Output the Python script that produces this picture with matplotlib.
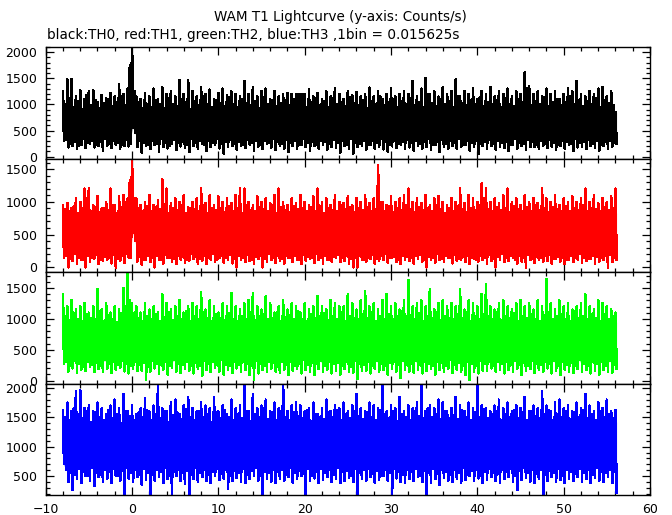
import numpy as np
import matplotlib
matplotlib.use("Agg")
import matplotlib.pyplot as plt
from matplotlib.ticker import MultipleLocator

# ---- data ----
# envelope of each light curve, sampled every 0.25 s:
#   *_a at t = -8.0, -7.5, ..., 56.0   ;   *_b at t = -7.75, -7.25, ..., 55.75
t_start = -8.0
t_step = 0.25

th0_hi_a = [1250, 1480, 1480, 1150, 1270, 1100, 1260, 1270, 1050, 1180,
            1120, 1210, 1150, 1390, 1200, 1300, 2150, 1150, 1100, 1220,
            1150, 1300, 1100, 1330, 1200, 1250, 1150, 1470, 1200, 1460,
            1250, 1150, 1330, 1200, 1280, 1100, 1220, 1300, 1180, 1250,
            1200, 1150, 1450, 1200, 1330, 1150, 1250, 1300, 1100, 1250,
            1150, 1200, 1210, 1200, 1200, 1200, 1200, 1280, 1150, 1220,
            1100, 1250, 1150, 1300, 1200, 1100, 1250, 1180, 1230, 1150,
            1200, 1320, 1150, 1250, 1100, 1200, 1300, 1150, 1200, 1250,
            1200, 1450, 1150, 1300, 1500, 1200, 1250, 1150, 1330, 1200,
            1250, 1480, 1150, 1250, 1200, 1300, 1100, 1250, 1200, 1330,
            1150, 1250, 1200, 1300, 1150, 1250, 1200, 1620, 1340, 1200,
            1250, 1150, 1300, 1200, 1250, 1100, 1200, 1300, 1250, 1450,
            1200, 1150, 1250, 1200, 1300, 1330, 1150, 1250, 850]
th0_hi_b = [1000, 1120, 950, 1060, 900, 1180, 980, 1080, 930, 1020,
            1100, 960, 1040, 1150, 980, 1750, 1260, 1050, 920, 1000,
            950, 1080, 1000, 920, 1120, 1010, 960, 1100, 1040, 900,
            1060, 980, 1150, 1000, 940, 1090, 1020, 970, 1130, 1000,
            950, 1100, 1030, 980, 1060, 920, 1140, 1000, 1080, 960,
            1030, 1080, 990, 1100, 1200, 1200, 950, 1040, 1120, 980,
            1070, 940, 1110, 1000, 1050, 960, 1130, 1020, 990, 1080,
            930, 1060, 1000, 1150, 980, 1040, 1100, 950, 1070, 1010,
            1120, 990, 1050, 940, 1200, 1030, 970, 1100, 1000, 1060,
            950, 1150, 1020, 980, 1090, 1000, 1130, 960, 1050, 1000,
            1080, 940, 1120, 1010, 970, 1100, 1050, 1300, 990, 1070,
            1000, 1130, 960, 1050, 1100, 980, 1040, 1150, 1000, 1090,
            970, 1060, 1010, 1120, 950, 1080, 1030, 990]
th0_lo_a = [300, 180, 200, 150, 220, 170, 250, 180, 200, 120,
            210, 170, 230, 160, 200, 200, 560, 180, 80, 200,
            150, 220, 100, 190, 160, 240, 130, 200, 170, 90,
            200, 150, 250, 120, 180, 220, 160, 60, 190, 210,
            140, 200, 170, 230, 110, 190, 150, 240, 170, 130,
            210, 160, 100, 200, 150, 230, 180, 120, 200, 160,
            220, 140, 190, 170, 80, 210, 150, 60, 180, 200,
            130, 220, 160, 190, 140, 100, 200, 170, 230, 150,
            180, 120, 210, 160, 190, 140, 220, 100, 180, 160,
            200, 150, 190, 230, 120, 180, 50, 200, 160, 210,
            140, 190, 170, 110, 220, 160, 200, 130, 180, 190,
            150, 210, 170, 190, 130, 200, 160, 220, 110, 180,
            190, 150, 200, 170, 120, 210, 160, 190, 250]
th0_lo_b = [320, 250, 290, 210, 340, 260, 300, 230, 280, 350,
            240, 310, 270, 220, 330, 250, 450, 300, 260, 220,
            300, 240, 350, 270, 210, 320, 260, 290, 230, 340,
            270, 310, 220, 300, 260, 350, 240, 280, 320, 250,
            290, 230, 330, 270, 310, 220, 300, 260, 340, 280,
            240, 320, 270, 300, 230, 350, 260, 290, 220, 310,
            280, 240, 330, 260, 300, 220, 340, 270, 250, 310,
            230, 300, 260, 340, 280, 220, 310, 250, 290, 330,
            260, 310, 240, 290, 350, 230, 280, 320, 250, 300,
            270, 340, 220, 300, 260, 310, 240, 290, 330, 250,
            310, 260, 290, 230, 340, 270, 250, 320, 280, 230,
            300, 250, 330, 270, 220, 310, 290, 240, 340, 260,
            280, 320, 250, 300, 230, 290, 310, 260]

th1_hi_a = [950, 980, 900, 1050, 1000, 1200, 1200, 950, 1080, 900,
            1000, 1200, 950, 1080, 1100, 1050, 1660, 1050, 950, 1000,
            1100, 950, 1020, 1340, 1200, 980, 1050, 1000, 1100, 920,
            1000, 1050, 1200, 980, 1100, 950, 1080, 1000, 1050, 980,
            1100, 1200, 1200, 1000, 950, 1080, 1000, 1050, 980, 1100,
            1200, 1000, 950, 1050, 980, 1100, 1000, 950, 1080, 1200,
            1000, 1050, 950, 1100, 1000, 980, 1080, 950, 1050, 1000,
            1100, 980, 1050, 1560, 1000, 950, 1080, 1000, 1050, 1100,
            1200, 1000, 1050, 980, 1100, 950, 1050, 1080, 1000, 950,
            1050, 1000, 1200, 980, 1100, 1050, 1000, 1280, 1200, 1000,
            1050, 980, 1100, 1200, 1000, 1050, 950, 1100, 1000, 1050,
            980, 1200, 1050, 1000, 1100, 950, 1050, 1000, 1080, 1000,
            1050, 1200, 1000, 1100, 980, 1050, 1000, 1080, 1200]
th1_hi_b = [880, 850, 930, 820, 900, 1050, 860, 920, 840, 900,
            870, 940, 830, 910, 1000, 1330, 1050, 900, 860, 930,
            850, 920, 880, 960, 830, 900, 870, 940, 820, 900,
            880, 850, 950, 830, 910, 870, 900, 840, 930, 860,
            900, 830, 940, 870, 850, 920, 880, 860, 950, 830,
            910, 870, 840, 930, 880, 900, 850, 920, 860, 940,
            830, 900, 870, 850, 940, 880, 910, 840, 900, 870,
            920, 850, 890, 1000, 860, 930, 840, 900, 870, 950,
            880, 840, 920, 870, 900, 850, 940, 880, 830, 910,
            860, 930, 880, 840, 900, 870, 950, 1050, 880, 850,
            920, 870, 900, 840, 930, 880, 860, 910, 850, 940,
            870, 900, 840, 920, 880, 860, 930, 850, 900, 870,
            940, 860, 900, 880, 850, 920, 870, 900]
th1_lo_a = [150, 0, 100, 60, 120, 0, 80, 130, 50, 100,
            120, 60, 0, 100, 70, 150, 530, 90, 40, 120,
            80, 0, 110, 60, 140, 90, 50, 120, 70, 100,
            130, 60, 100, 50, 120, 80, 140, 70, 110, 60,
            0, 120, 80, 100, 60, 130, 0, 90, 110, 70,
            100, 60, 140, 80, 120, 50, 100, 130, 70, 110,
            60, 120, 90, 140, 80, 100, 50, 0, 0, 110,
            90, 130, 60, 100, 120, 70, 140, 80, 50, 110,
            100, 60, 130, 90, 0, 120, 70, 110, 80, 140,
            60, 100, 120, 80, 50, 130, 90, 110, 60, 100,
            0, 120, 80, 100, 140, 60, 90, 0, 110, 70,
            120, 80, 100, 60, 130, 90, 50, 110, 80, 120,
            70, 100, 130, 60, 90, 110, 0, 80, 120]
th1_lo_b = [180, 130, 200, 150, 110, 170, 140, 190, 120, 160,
            150, 190, 130, 170, 200, 140, 400, 160, 120, 180,
            140, 170, 120, 190, 150, 130, 180, 160, 110, 200,
            160, 130, 180, 140, 200, 120, 170, 150, 190, 130,
            170, 140, 190, 120, 160, 180, 130, 200, 150, 170,
            130, 180, 150, 170, 120, 190, 160, 140, 200, 150,
            180, 120, 160, 190, 140, 170, 130, 150, 180, 120,
            150, 190, 130, 170, 200, 140, 160, 120, 180, 160,
            140, 170, 190, 120, 160, 150, 200, 130, 170, 140,
            190, 130, 160, 180, 140, 120, 170, 150, 190, 130,
            160, 200, 140, 170, 120, 180, 150, 190, 130, 160,
            140, 170, 190, 130, 160, 150, 120, 180, 140, 200,
            150, 130, 180, 160, 140, 170, 190, 150]

th2_hi_a = [1400, 1200, 1300, 1150, 1200, 1250, 1100, 1200, 1480, 1150,
            1250, 1100, 1200, 1150, 1500, 1770, 1250, 1200, 1100, 1250,
            1150, 1200, 1100, 1400, 1250, 1150, 1200, 1300, 1100, 1200,
            1250, 1200, 1440, 1150, 1300, 1200, 1100, 1250, 1200, 1420,
            1200, 1150, 1250, 1300, 1420, 1200, 1150, 1370, 1250, 1100,
            1200, 1300, 1150, 1250, 1200, 1100, 1250, 1150, 1200, 1370,
            1200, 1150, 1300, 1250, 1200, 1200, 1400, 1250, 1150, 1300,
            1450, 1200, 1250, 1150, 1300, 1400, 1200, 1250, 1150, 1300,
            1630, 1200, 1250, 1300, 1200, 1480, 1150, 1250, 1300, 1200,
            1250, 1200, 1480, 1150, 1300, 1250, 1200, 1400, 1560, 1200,
            1150, 1250, 1300, 1200, 1150, 1250, 1300, 1200, 1250, 1150,
            1300, 1200, 1650, 1250, 1150, 1300, 1200, 1250, 1150, 1200,
            1250, 1400, 1200, 1150, 1300, 1250, 1200, 1150, 1100]
th2_hi_b = [1050, 980, 1100, 1000, 960, 1080, 1020, 990, 1120, 970,
            1060, 1000, 950, 1090, 1200, 1300, 1100, 1010, 970, 1050,
            990, 1080, 960, 1030, 1100, 980, 1050, 1000, 1120, 970,
            1040, 990, 1100, 1010, 960, 1070, 1020, 980, 1090, 1000,
            960, 1050, 1000, 1110, 980, 1040, 1080, 990, 1020, 1100,
            970, 1030, 1060, 990, 1120, 1000, 960, 1080, 1010, 1050,
            1090, 980, 1040, 1000, 1100, 970, 1050, 1020, 990, 1070,
            1010, 1100, 960, 1050, 1000, 1080, 990, 1040, 1120, 980,
            1060, 1000, 1090, 970, 1040, 1010, 1100, 980, 1050, 1020,
            990, 1070, 1010, 1100, 960, 1040, 1000, 1080, 1050, 990,
            1100, 980, 1040, 1020, 1090, 970, 1050, 1010, 1080, 1000,
            960, 1060, 1100, 990, 1040, 1080, 1000, 970, 1120, 1010,
            1050, 990, 1080, 1020, 960, 1070, 1000, 1040]
th2_lo_a = [280, 150, 200, 130, 180, 160, 220, 140, 190, 150,
            200, 130, 170, 210, 150, 120, 200, 160, 160, 20,
            150, 200, 120, 180, 100, 210, 150, 130, 190, 160,
            120, 200, 80, 170, 140, 210, 150, 100, 180, 130,
            200, 150, 170, 90, 20, 120, 180, 140, 200, 150,
            130, 180, 100, 160, 200, 120, 170, 150, 90, 190,
            140, 180, 120, 160, 100, 190, 150, 130, 30, 160,
            160, 120, 190, 140, 170, 100, 200, 150, 40, 180,
            150, 130, 180, 120, 160, 200, 100, 170, 140, 190,
            130, 170, 150, 90, 10, 140, 120, 160, 160, 200,
            150, 180, 120, 170, 140, 200, 100, 160, 190, 130,
            170, 140, 200, 120, 160, 90, 180, 150, 130, 190,
            140, 170, 120, 160, 100, 180, 150, 130, 200]
th2_lo_b = [300, 250, 320, 270, 230, 310, 260, 290, 240, 330,
            270, 300, 250, 320, 280, 240, 310, 260, 290, 230,
            320, 270, 250, 300, 240, 330, 280, 260, 310, 250,
            290, 240, 320, 270, 300, 250, 330, 260, 240, 310,
            260, 300, 280, 240, 320, 270, 250, 310, 290, 230,
            310, 260, 300, 240, 280, 330, 250, 290, 270, 320,
            240, 310, 270, 290, 250, 300, 230, 320, 280, 260,
            300, 250, 320, 270, 240, 290, 310, 260, 330, 250,
            280, 320, 250, 300, 270, 240, 310, 290, 250, 330,
            260, 290, 240, 310, 280, 250, 320, 270, 300, 240,
            310, 270, 300, 250, 330, 260, 290, 240, 320, 280,
            250, 300, 270, 320, 240, 310, 260, 290, 250, 330,
            280, 240, 310, 270, 300, 250, 320, 260]

th3_hi_a = [1620, 1750, 1600, 1950, 1960, 1650, 1700, 1600, 1750, 1650,
            1550, 1700, 1800, 1650, 1900, 1600, 1700, 1550, 1650, 1820,
            1600, 1700, 2030, 1650, 1600, 1750, 1800, 1550, 1700, 1850,
            1650, 1600, 1750, 1700, 1650, 1850, 1600, 1700, 1550, 1800,
            1650, 1700, 2070, 1600, 1900, 1650, 1700, 1800, 1600, 1750,
            1650, 2070, 1600, 1700, 1750, 1700, 1600, 1650, 1750, 1550,
            1650, 1800, 1600, 1700, 1650, 1750, 1600, 1700, 1900, 1650,
            1600, 1750, 1700, 1650, 2070, 1600, 1700, 1650, 1850, 1600,
            1700, 1650, 1750, 2070, 1600, 1700, 1650, 1800, 1750, 1600,
            1650, 1850, 1700, 1600, 1750, 1650, 2070, 1700, 1650, 1600,
            1700, 1800, 1650, 1750, 1600, 1700, 1650, 1850, 1600, 1700,
            1650, 1950, 1700, 1600, 1750, 1800, 1650, 1700, 1600, 1750,
            1650, 1900, 1700, 1600, 1750, 1650, 1800, 1600, 1620]
th3_hi_b = [1500, 1450, 1650, 1550, 1480, 1600, 1420, 1580, 1500, 1450,
            1620, 1480, 1550, 1400, 1600, 1520, 1450, 1580, 1500, 1620,
            1450, 1550, 1480, 1600, 1420, 1530, 1580, 1470, 1640, 1500,
            1450, 1600, 1500, 1550, 1420, 1580, 1480, 1620, 1500, 1450,
            1560, 1480, 1600, 1430, 1550, 1500, 1650, 1470, 1580, 1450,
            1600, 1500, 1450, 1580, 1520, 1480, 1620, 1440, 1550, 1500,
            1470, 1580, 1500, 1620, 1450, 1550, 1480, 1600, 1520, 1460,
            1580, 1500, 1450, 1620, 1550, 1480, 1600, 1430, 1560, 1500,
            1450, 1600, 1520, 1480, 1650, 1500, 1550, 1460, 1600, 1480,
            1530, 1470, 1620, 1500, 1450, 1580, 1500, 1640, 1480, 1550,
            1600, 1450, 1550, 1500, 1620, 1480, 1580, 1450, 1600, 1520,
            1480, 1560, 1620, 1450, 1550, 1500, 1600, 1470, 1580, 1500,
            1620, 1480, 1550, 1450, 1600, 1500, 1560, 1480]
th3_lo_a = [700, 400, 260, 450, 380, 500, 420, 330, 480, 400,
            450, 380, 500, 420, 175, 460, 400, 480, 350, 440,
            175, 420, 480, 380, 450, 200, 500, 420, 360, 175,
            450, 400, 480, 420, 380, 500, 430, 460, 280, 420,
            470, 400, 380, 450, 500, 420, 175, 460, 400, 380,
            450, 420, 480, 390, 450, 500, 175, 420, 460, 380,
            430, 480, 400, 450, 380, 420, 470, 400, 175, 450,
            420, 480, 390, 440, 500, 420, 175, 460, 400, 380,
            450, 420, 480, 400, 200, 380, 450, 350, 470, 420,
            400, 460, 380, 440, 500, 420, 460, 380, 430, 480,
            420, 390, 450, 480, 400, 260, 440, 470, 400, 380,
            450, 180, 420, 480, 400, 440, 380, 460, 420, 480,
            400, 450, 380, 470, 420, 400, 480, 380, 220]
th3_lo_b = [600, 550, 520, 620, 580, 500, 640, 560, 530, 600,
            570, 620, 510, 590, 640, 550, 600, 530, 620, 560,
            520, 600, 580, 640, 500, 570, 610, 550, 590, 520,
            640, 560, 600, 520, 580, 620, 540, 600, 500, 590,
            560, 620, 530, 590, 640, 500, 580, 550, 610, 570,
            600, 520, 640, 560, 590, 540, 620, 500, 580, 630,
            550, 600, 520, 640, 570, 590, 510, 620, 560, 600,
            620, 540, 590, 500, 610, 560, 630, 580, 520, 600,
            570, 630, 510, 590, 550, 620, 540, 600, 580, 520,
            600, 560, 640, 530, 590, 610, 500, 570, 620, 550,
            530, 600, 570, 620, 510, 590, 640, 560, 600, 540,
            610, 520, 590, 560, 630, 500, 600, 580, 540, 620,
            560, 600, 520, 640, 580, 550, 610, 570]

# dense (saturated) part of each band
th0_core = [330, 870]
th1_core = [180, 830]
th2_core = [270, 950]
th3_core = [600, 1420]

colors = ["#000000", "#ff0000", "#00ff00", "#0000ff"]
ylims = [(-45, 2100), (-65, 1655), (-55, 1770), (175, 2070)]
x_ticks = [-10, 0, 10, 20, 30, 40, 50, 60]
title = "WAM T1 Lightcurve (y-axis: Counts/s)"
subtitle = "black:TH0, red:TH1, green:TH2, blue:TH3 ,1bin = 0.015625s"

series = [(th0_hi_a, th0_hi_b, th0_lo_a, th0_lo_b, th0_core),
          (th1_hi_a, th1_hi_b, th1_lo_a, th1_lo_b, th1_core),
          (th2_hi_a, th2_hi_b, th2_lo_a, th2_lo_b, th2_core),
          (th3_hi_a, th3_hi_b, th3_lo_a, th3_lo_b, th3_core)]


def merge(a, b):
    a = np.asarray(a, float)
    b = np.asarray(b, float)
    out = np.empty(len(a) + len(b))
    out[0::2] = a
    out[1::2] = b
    return out


plt.rcParams['font.family'] = ['DejaVu Sans']
fig = plt.figure(figsize=(6.72, 5.15), dpi=100)

W, H = 672.0, 515.0
left, right = 45.7 / W, 650.0 / W
edges_px = [47, 159, 271.5, 384, 495]

for k in range(4):
    top = 1 - edges_px[k] / H
    bot = 1 - edges_px[k + 1] / H
    ax = fig.add_axes([left, bot, right - left, top - bot])
    hi_a, hi_b, lo_a, lo_b, core = series[k]
    hi = merge(hi_a, hi_b)
    lo = merge(lo_a, lo_b)
    n = len(hi)
    times = t_start + t_step * np.arange(n)
    x = np.empty(2 * n)
    y = np.empty(2 * n)
    x[0::2] = times
    x[1::2] = times + t_step / 2
    y[0::2] = hi
    y[1::2] = lo
    lo_r = lo.repeat(2)
    hi_r = hi.repeat(2)
    ax.fill_between(x, np.maximum(lo_r, core[0]), np.minimum(hi_r, core[1]),
                    color=colors[k], lw=0, antialiased=False)
    ax.plot(x, y, color=colors[k], lw=1.2, antialiased=False)
    ax.set_xlim(-10, 60)
    ax.set_ylim(*ylims[k])
    ax.xaxis.set_major_locator(MultipleLocator(10))
    ax.xaxis.set_minor_locator(MultipleLocator(2))
    ax.yaxis.set_major_locator(MultipleLocator(500))
    ax.yaxis.set_minor_locator(MultipleLocator(100))
    ax.tick_params(which='both', direction='in', top=True, right=True,
                   width=0.9, color='black', labelsize=9, pad=6)
    ax.tick_params(which='major', length=6)
    ax.tick_params(which='minor', length=3)
    for s in ax.spines.values():
        s.set_linewidth(1.0)
    if k < 3:
        ax.tick_params(labelbottom=False)
    else:
        ax.set_xticks(x_ticks)

fig.text(0.506, 1 - 17 / H, title, ha='center', va='center', fontsize=9.75)
fig.text(47 / W, 1 - 35 / H, subtitle, ha='left', va='center', fontsize=9.8)

fig.savefig("out.png", dpi=100, facecolor='white')
